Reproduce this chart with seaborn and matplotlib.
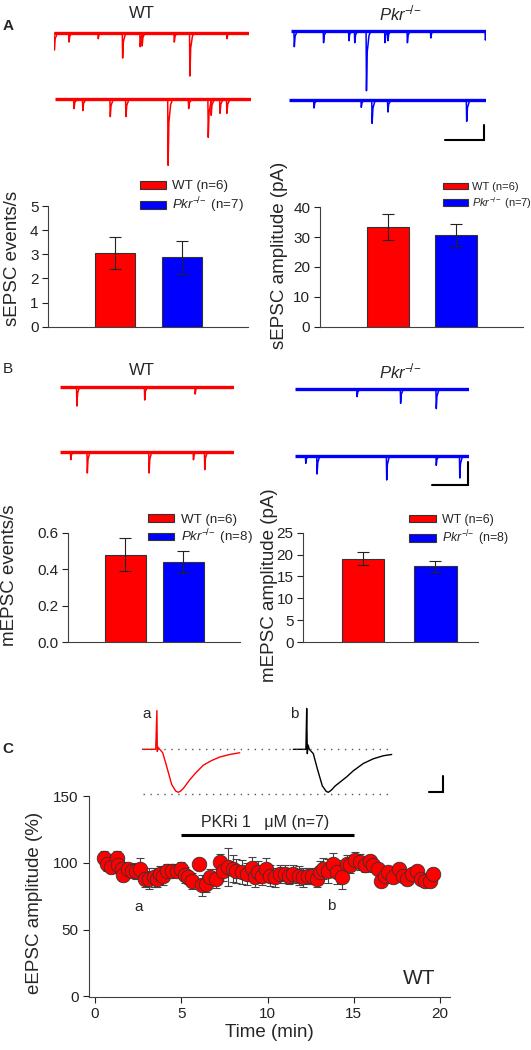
import matplotlib
matplotlib.use("Agg")
import matplotlib.pyplot as plt
import pandas as pd
import seaborn as sns
from matplotlib.patches import Patch
from matplotlib.ticker import FormatStrFormatter

sns.set_style("white")
plt.rcParams["font.family"] = ["Liberation Sans", "DejaVu Sans"]
plt.rcParams["mathtext.fontset"] = "custom"
plt.rcParams["mathtext.rm"] = "Liberation Sans"
plt.rcParams["mathtext.it"] = "Liberation Sans:italic"

RED = "#ff0000"
BLUE = "#0000ff"
EDGE = "#333333"
PKR = r"$\mathit{Pkr}^{-\!/\!-}$"

# ---- data -------------------------------------------------------------
groups = ["WT", "Pkr-/-"]

sepsc_freq = [3.05, 2.87]
sepsc_freq_err = [0.66, 0.68]
sepsc_amp = [33.3, 30.8]
sepsc_amp_err = [4.4, 3.7]
sepsc_n = [6, 7]

mepsc_freq = [0.48, 0.44]
mepsc_freq_err = [0.09, 0.06]
mepsc_amp = [19.0, 17.3]
mepsc_amp_err = [1.5, 1.3]
mepsc_n = [6, 8]

# example sweeps: event time (s) and amplitude (pA), 2 s per sweep
a_wt1_t = [0.00, 0.15, 0.45, 0.70, 0.88, 0.90, 1.23, 1.39, 1.77]
a_wt1_a = [26, 14, 9, 38, 21, 20, 14, 65, 9]
a_wt2_t = [0.19, 0.28, 0.56, 0.72, 1.15, 1.36, 1.56, 1.59, 1.68, 1.75]
a_wt2_a = [14, 17, 26, 26, 99, 14, 57, 24, 21, 21]
a_ko1_t = [0.03, 0.33, 0.59, 0.65, 0.77, 0.96, 0.99, 1.19, 1.43, 1.99]
a_ko1_a = [24, 18, 15, 18, 90, 18, 15, 18, 11, 14]
a_ko2_t = [0.25, 0.73, 0.84, 1.00, 1.80]
a_ko2_a = [12, 11, 35, 18, 32]

b_wt1_t = [0.19, 0.97, 1.55]
b_wt1_a = [29, 20, 11]
b_wt2_t = [0.12, 0.31, 1.02, 1.53, 1.66]
b_wt2_a = [12, 32, 32, 12, 27]
b_ko1_t = [0.71, 1.21, 1.62]
b_ko1_a = [11, 21, 29]
b_ko2_t = [0.12, 0.25, 1.05, 1.62, 1.89]
b_ko2_a = [11, 27, 36, 14, 33]

# evoked EPSC examples (ms, normalised current)
epsc_a_t = [0, 7, 7.6, 7.8, 8.2, 9, 10.5, 12.5, 15, 17, 18.3, 19.5, 21, 24, 27,
            30.8, 35, 39, 44, 49]
epsc_a_i = [0, 0, 0.9, -0.05, 0.05, 0, -0.08, -0.4, -0.82, -0.97, -1.0, -0.97,
            -0.9, -0.71, -0.55, -0.37, -0.26, -0.18, -0.12, -0.08]
epsc_b_t = [0, 6.3, 6.7, 7, 7.4, 8, 10, 12, 14.5, 16.5, 17.5, 19, 21, 26.7, 30,
            35, 40, 45, 49.2]
epsc_b_i = [0, 0, 0.95, -0.1, 0.1, 0, -0.1, -0.45, -0.85, -0.98, -1.0, -0.95,
            -0.85, -0.64, -0.5, -0.33, -0.22, -0.15, -0.12]

# time course
time_min = [0.52, 0.71, 0.9, 1.25, 1.35, 1.55, 1.64, 1.93, 2.13, 2.4,
            2.6, 2.9, 3.1, 3.4, 3.57, 3.77, 3.96, 4.15, 4.44, 4.73,
            4.97, 5.2, 5.4, 5.6, 6.05, 6.18, 6.43, 6.67, 7.0, 7.25,
            7.44, 7.73, 8.0, 8.2, 8.5, 8.8, 9.08, 9.28, 9.47, 9.66,
            9.9, 10.15, 10.43, 10.72, 11.0, 11.27, 11.5, 11.8, 12.08, 12.37,
            12.56, 12.85, 13.04, 13.24, 13.53, 13.8, 14.0, 14.3, 14.6, 14.8,
            15.07, 15.36, 15.65, 15.94, 16.14, 16.4, 16.6, 16.8, 17.0, 17.3,
            17.6, 17.87, 18.07, 18.36, 18.65, 18.88, 19.13, 19.4, 19.6]
eepsc = [103.5, 99, 96.7, 103.5, 98, 95.5, 91, 95.5, 94, 94,
         95.5, 88, 88, 89, 88, 91.5, 90, 94, 94, 94,
         95.5, 90.5, 89, 86.6, 99, 83, 84, 89, 88, 100.5,
         94, 96.7, 95.5, 94, 93, 91.7, 96, 89, 93, 90.4,
         95.5, 90.4, 89, 91.7, 91.7, 90.4, 91.7, 90.4, 89, 90.4,
         90, 88, 93, 95.5, 94, 99, 93, 89, 99, 98,
         101.8, 100.5, 98, 101, 98, 95.5, 86.6, 90.4, 93, 89,
         95.5, 90.4, 88, 91.7, 94, 88, 86, 86, 91.7]
eepsc_err = [5, 5, 4, 5, 6, 5, 5, 4, 5, 6,
             8, 6, 8, 7, 6, 6, 7, 5, 5, 5,
             5, 6, 5, 6, 4, 8, 6, 6, 7, 6,
             8, 14, 10, 9, 9, 8, 8, 7, 8, 7,
             8, 8, 7, 7, 7, 6, 7, 7, 7, 6,
             6, 6, 8, 8, 9, 8, 9, 9, 7, 6,
             6, 6, 5, 5, 5, 4, 4, 4, 4, 4,
             4, 4, 5, 4, 4, 4, 4, 4, 4]
drug_start, drug_end = 5, 15

# ---- layout helpers ---------------------------------------------------
W, H = 531, 1050
fig = plt.figure(figsize=(W / 100, H / 100), dpi=100)


def box(l, t, r, b):
    return [l / W, 1 - b / H, (r - l) / W, (b - t) / H]


def fx(x):
    return x / W


def fy(y):
    return 1 - y / H


PA_PX = 1.5  # pA per pixel in the example sweeps


def sweep(ax, times, amps, color, dur=2.0):
    ax.plot([0, dur], [0, 0], color=color, lw=2.4, solid_capstyle="butt")
    for t, a in zip(times, amps):
        ax.plot([t, t + 0.004, t + 0.012, t + 0.03, t + 0.05],
                [0, -a, -0.35 * a, -0.08 * a, 0], color=color, lw=1.1)


def trace_ax(left, width, base, times, amps, color):
    ax = fig.add_axes(box(left, base - 12, left + width, base + 75))
    sweep(ax, times, amps, color)
    ax.set_xlim(0, 2.0)
    ax.set_ylim(-75 * PA_PX, 12 * PA_PX)
    ax.axis("off")


def bar_panel(rect, vals, errs, ns, xlim, ymax, yticks, width,
              leg_xy, leg_fs, hlen, spacing, tpad):
    ax = fig.add_axes(rect)
    df = pd.DataFrame({"g": groups, "v": vals})
    sns.barplot(data=df, x="g", y="v", hue="g", palette=[RED, BLUE],
                saturation=1, width=width, edgecolor=EDGE, linewidth=0.8,
                errorbar=None, legend=False, ax=ax)
    ax.errorbar([0, 1], vals, yerr=errs, fmt="none", ecolor="#222222",
                elinewidth=0.8, capsize=4, capthick=0.8, zorder=4)
    ax.set_xlim(*xlim)
    ax.set_ylim(0, ymax)
    ax.set_yticks(yticks)
    ax.set_xticks([])
    ax.set_xlabel("")
    ax.set_ylabel("")
    sns.despine(ax=ax)
    for s in ["left", "bottom"]:
        ax.spines[s].set_color("#404040")
        ax.spines[s].set_linewidth(0.8)
    ax.tick_params(axis="y", direction="out", length=4, width=0.8,
                   labelsize=11, left=True, pad=3, colors="#222222")
    handles = [Patch(facecolor=RED, edgecolor=EDGE, lw=0.8),
               Patch(facecolor=BLUE, edgecolor=EDGE, lw=0.8)]
    labels = [f"WT (n={ns[0]})", PKR + f" (n={ns[1]})"]
    ax.legend(handles, labels, loc="upper left",
              bbox_to_anchor=(fx(leg_xy[0]), fy(leg_xy[1])),
              bbox_transform=fig.transFigure, frameon=False, fontsize=leg_fs,
              handlelength=hlen, handleheight=0.5, handletextpad=tpad,
              borderpad=0, borderaxespad=0, labelspacing=spacing)
    return ax


# ---- panel A ----------------------------------------------------------
fig.text(fx(142), fy(13), "WT", fontsize=12, ha="center", va="center")
fig.text(fx(400), fy(13), PKR, fontsize=12, ha="center", va="center")
trace_ax(54, 195, 32.7, a_wt1_t, a_wt1_a, RED)
trace_ax(55, 196, 99.3, a_wt2_t, a_wt2_a, RED)
trace_ax(291, 195, 30.7, a_ko1_t, a_ko1_a, BLUE)
trace_ax(289, 197, 100, a_ko2_t, a_ko2_a, BLUE)

bar_panel(box(48.3, 206, 248.3, 326.7), sepsc_freq, sepsc_freq_err, sepsc_n,
          (-0.995, 1.99), 5, [0, 1, 2, 3, 4, 5], 0.6,
          (140, 180.5), 9.6, 1.95, 0.25, 0.45)
bar_panel(box(320, 207.3, 523, 326.7), sepsc_amp, sepsc_amp_err, sepsc_n,
          (-1.016, 2.0), 40, [0, 10, 20, 30, 40], 0.625,
          (442.7, 182), 8.0, 2.3, 0.25, 0.35)
fig.text(fx(12.5), fy(258), "sEPSC events/s", rotation=90, fontsize=13.5,
         ha="center", va="center")
fig.text(fx(280), fy(255), "sEPSC amplitude (pA)", rotation=90, fontsize=13.5,
         ha="center", va="center")

# ---- panel B ----------------------------------------------------------
fig.text(fx(142), fy(371), "WT", fontsize=12, ha="center", va="center")
fig.text(fx(400), fy(371), PKR, fontsize=12, ha="center", va="center")
trace_ax(60, 174, 386.7, b_wt1_t, b_wt1_a, RED)
trace_ax(60, 174, 451.7, b_wt2_t, b_wt2_a, RED)
trace_ax(295, 174, 389.3, b_ko1_t, b_ko1_a, BLUE)
trace_ax(295, 174, 456, b_ko2_t, b_ko2_a, BLUE)

ax_mf = bar_panel(box(68.3, 532.7, 240, 642), mepsc_freq, mepsc_freq_err,
                  mepsc_n, (-0.98, 1.98), 0.6, [0.0, 0.2, 0.4, 0.6], 0.71,
                  (148, 513.5), 9.6, 1.95, 0.15, 0.5)
ax_mf.yaxis.set_major_formatter(FormatStrFormatter("%.1f"))
bar_panel(box(303.3, 532.7, 478.3, 642), mepsc_amp, mepsc_amp_err, mepsc_n,
          (-0.82, 1.59), 25, [0, 5, 10, 15, 20, 25], 0.58,
          (409, 514), 8.9, 2.15, 0.2, 0.5)
fig.text(fx(10), fy(575), "mEPSC events/s", rotation=90, fontsize=13.5,
         ha="center", va="center")
fig.text(fx(270), fy(585), "mEPSC amplitude (pA)", rotation=90, fontsize=13.5,
         ha="center", va="center")

# ---- panel C: example EPSCs -------------------------------------------
axc = fig.add_axes(box(141.7, 700, 401.7, 800))
axc.plot(epsc_a_t, epsc_a_i, color=RED, lw=1.0)
axc.plot([t + 75.8 for t in epsc_b_t], epsc_b_i, color="black", lw=1.0)
axc.hlines([0, -1.05], 0.65, 124, colors="#555555", lw=1.0,
           linestyles=[(0, (1, 4))])
axc.set_xlim(0, 130)
axc.set_ylim(-1.179, 1.147)
axc.axis("off")

# ---- panel C: time course ---------------------------------------------
ax = fig.add_axes(box(89, 796, 450, 997))
ax.errorbar(time_min, eepsc, yerr=eepsc_err, fmt="none", ecolor="#444444",
            elinewidth=0.8, capsize=3, capthick=0.8, zorder=2)
sns.scatterplot(x=time_min, y=eepsc, color=RED, s=110, edgecolor=EDGE,
                linewidth=0.6, zorder=3, ax=ax)
ax.plot([drug_start, drug_end], [121, 121], color="black", lw=2.2,
        solid_capstyle="butt")
ax.text(9.85, 130, "PKRi 1   \u03bcM (n=7)", fontsize=11.5, ha="center",
        va="center")
ax.text(2.5, 67, "a", fontsize=11, ha="center", va="center")
ax.text(13.7, 67.5, "b", fontsize=11, ha="center", va="center")
ax.text(18.8, 13, "WT", fontsize=15, ha="center", va="center")
ax.set_xlim(-0.35, 20.58)
ax.set_ylim(-0.5, 150)
ax.set_xticks([0, 5, 10, 15, 20])
ax.set_yticks([0, 50, 100, 150])
ax.set_xlabel("Time (min)", fontsize=13.5, labelpad=2)
sns.despine(ax=ax)
for s in ["left", "bottom"]:
    ax.spines[s].set_color("#404040")
    ax.spines[s].set_linewidth(0.8)
ax.tick_params(direction="out", length=4, width=0.8, labelsize=11,
               left=True, bottom=True, colors="#222222")
fig.text(fx(35), fy(903), "eEPSC amplitude (%)", rotation=90, fontsize=13.5,
         ha="center", va="center")

# ---- overlay: panel letters and scale bars ----------------------------
ov = fig.add_axes([0, 0, 1, 1])
ov.set_xlim(0, W)
ov.set_ylim(H, 0)
ov.axis("off")
ov.text(8, 25.5, "A", fontsize=11, fontweight="bold", ha="center", va="center")
ov.text(7.5, 369, "B", fontsize=11, ha="center", va="center")
ov.text(8, 749, "C", fontsize=11, fontweight="bold", ha="center", va="center")
ov.text(146.5, 714, "a", fontsize=11, ha="center", va="center")
ov.text(294, 714, "b", fontsize=11, ha="center", va="center")
for xs, ys in [([445, 484, 484], [140, 140, 125]),
               ([432, 468, 468], [485, 485, 462]),
               ([429, 443, 443], [792, 792, 776])]:
    ov.plot(xs, ys, color="black", lw=1.5, solid_joinstyle="miter")

fig.savefig("out.png", dpi=100)
